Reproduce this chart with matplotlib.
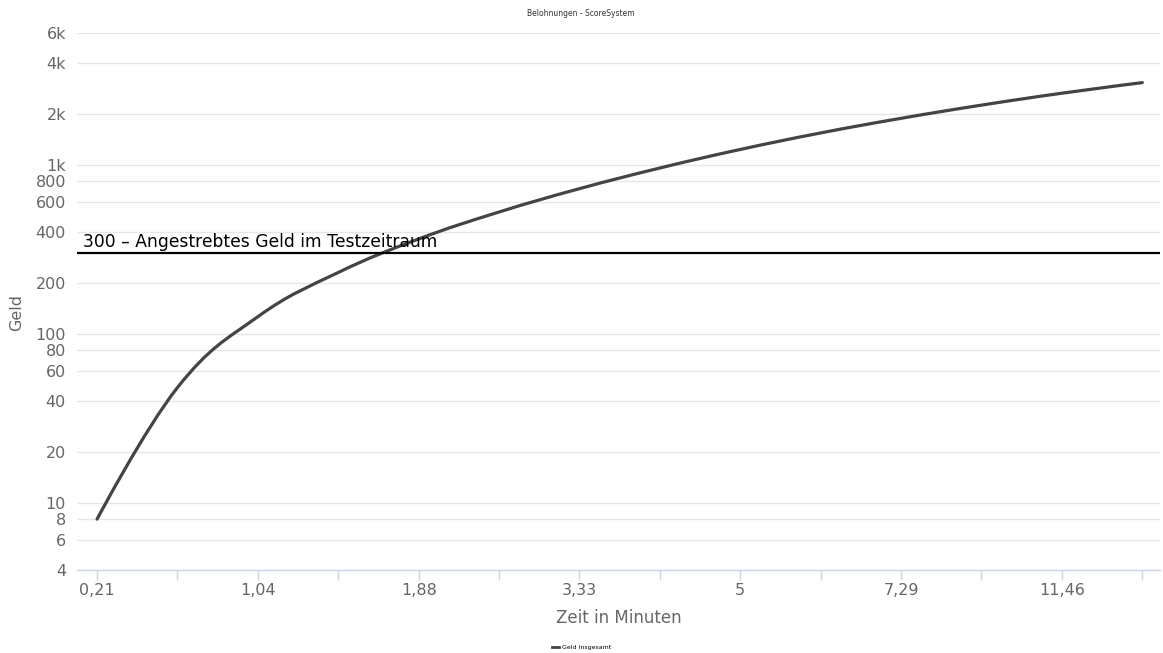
import numpy as np
import matplotlib
matplotlib.use('Agg')
import matplotlib.pyplot as plt
from matplotlib.path import Path
from matplotlib.patches import PathPatch
from matplotlib.lines import Line2D

# x categories: only every second one carries a visible label
x_labels = ['0,21', '1,04', '1,88', '3,33', '5', '7,29', '11,46']
label_step = 2

# Geld Insgesamt, one value per category
geld = [8, 48, 126, 230, 363, 524, 720, 954, 1228, 1538, 1877, 2246, 2642, 3052]

# y tick values of the log axis
y_ticks = [4, 6, 8, 10, 20, 40, 60, 80, 100, 200, 400, 600, 800,
           1000, 2000, 4000, 6000]

target = 300
target_text = '300 – Angestrebtes Geld im Testzeitraum'


def fmt_tick(v):
    return f'{v // 1000}k' if v >= 1000 else str(v)


def spline_path(xs, ys, smoothing=1.5):
    # Highcharts-like spline, control points built in (x, log10 y) space
    ly = np.log10(ys)
    n = len(xs)
    left = [None] * n
    right = [None] * n
    denom = smoothing + 1
    for i in range(1, n - 1):
        lx, lyy = xs[i - 1], ly[i - 1]
        nx, nyy = xs[i + 1], ly[i + 1]
        px, py = xs[i], ly[i]
        lcx = (smoothing * px + lx) / denom
        lcy = (smoothing * py + lyy) / denom
        rcx = (smoothing * px + nx) / denom
        rcy = (smoothing * py + nyy) / denom
        corr = (rcy - lcy) * (rcx - px) / (rcx - lcx) + py - rcy
        left[i] = (lcx, lcy + corr)
        right[i] = (rcx, rcy + corr)
    verts = [(xs[0], ly[0])]
    codes = [Path.MOVETO]
    for i in range(1, n):
        c1 = right[i - 1] if right[i - 1] is not None else (xs[i - 1], ly[i - 1])
        c2 = left[i] if left[i] is not None else (xs[i], ly[i])
        verts += [c1, c2, (xs[i], ly[i])]
        codes += [Path.CURVE4] * 3
    verts = [(x, 10 ** y) for x, y in verts]
    return Path(verts, codes)


fig = plt.figure(figsize=(11.63, 6.53), dpi=100)
ax = fig.add_axes([0.0662, 0.1271, 0.9312, 0.8224])

x = np.arange(len(geld))
ax.set_yscale('log')
ax.set_xlim(-0.25, 13.22)
ax.set_ylim(4, 6000)

# grid lines
for v in y_ticks:
    ax.axhline(v, color='#e6e6e6', lw=1, zorder=0)

curve = PathPatch(spline_path(x, np.array(geld, dtype=float)), fill=False,
                  edgecolor='#434348', lw=2.3, capstyle='round', zorder=3)
ax.add_patch(curve)

# target line
ax.axhline(target, color='black', lw=1.6, zorder=4)
ax.text(-0.18, target * 1.03, target_text, fontsize=12.3, color='black',
        ha='left', va='bottom', zorder=5)

# y axis
ax.set_yticks(y_ticks)
ax.set_yticklabels([fmt_tick(v) for v in y_ticks])
ax.yaxis.set_minor_locator(matplotlib.ticker.NullLocator())
ax.tick_params(axis='y', length=0, pad=8, labelsize=11.5, labelcolor='#666666')
ax.set_ylabel('Geld', fontsize=11.5, color='#666666')
ax.yaxis.set_label_coords(-0.049, 0.48)

# x axis
ax.set_xticks(x)
ax.set_xticklabels([x_labels[i // label_step] if i % label_step == 0 and i // label_step < len(x_labels) else ''
                    for i in x])
ax.tick_params(axis='x', length=7, width=1, color='#ccd6eb', pad=2,
               labelsize=11.5, labelcolor='#666666')
ax.set_xlabel('Zeit in Minuten', fontsize=12, color='#666666', labelpad=8)

for side in ['top', 'right', 'left']:
    ax.spines[side].set_visible(False)
ax.spines['bottom'].set_color('#ccd6eb')
ax.spines['bottom'].set_linewidth(1)

fig.text(0.4995, 0.979, 'Belohnungen - ScoreSystem', fontsize=5.5,
         color='#333333', ha='center', va='center')

handle = Line2D([], [], color='#434348', lw=2)
fig.legend([handle], ['Geld Insgesamt'], loc='center', bbox_to_anchor=(0.5, 0.009),
           frameon=False, fontsize=4.5, handlelength=1.2, handletextpad=0.4)

fig.savefig('out.png', dpi=100)
